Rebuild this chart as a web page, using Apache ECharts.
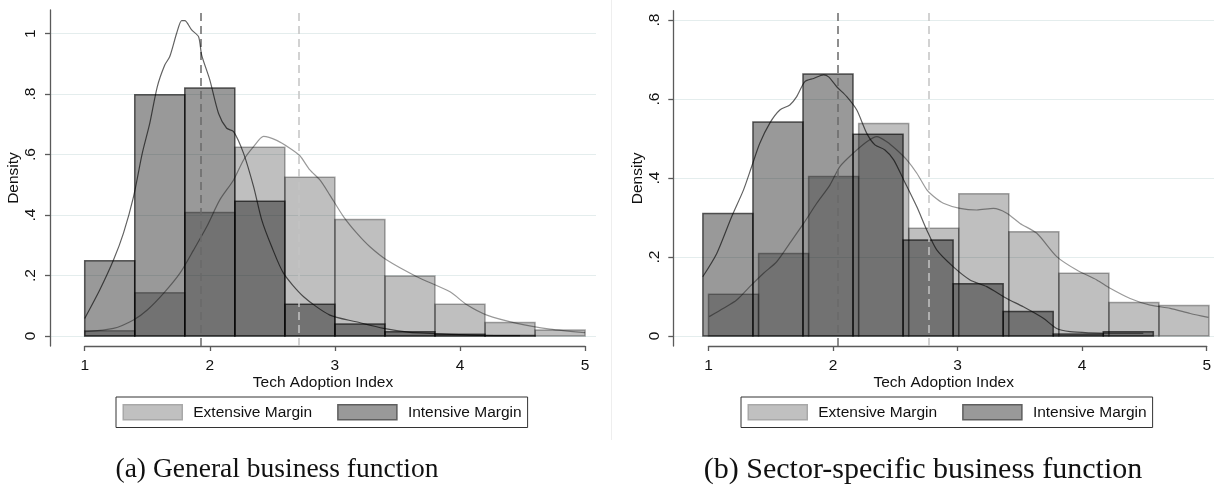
<!DOCTYPE html>
<html>
<head>
<meta charset="utf-8">
<script src="https://cdn.jsdelivr.net/npm/echarts@6/dist/echarts.min.js"></script>
<style>
  html, body { margin: 0; padding: 0; background: #fff; }
  #chart { width: 1214px; height: 491px; }
</style>
</head>
<body>
<div id="chart"></div>
<script>
// ---- Data -------------------------------------------------------------
const binWidth = 0.4;

// (a) General business function
const extStartA = 1.0;
const extA = [0.017, 0.143, 0.408, 0.624, 0.525, 0.385, 0.198, 0.105, 0.045, 0.020];
const intStartA = 1.0;
const intA = [0.249, 0.798, 0.820, 0.446, 0.105, 0.040, 0.014, 0.006, 0.002];
const extDensA = [
  [1.00, 0.014], [1.23, 0.025], [1.39, 0.053], [1.50, 0.086], [1.63, 0.141], [1.76, 0.207],
  [1.87, 0.284], [1.975, 0.361], [2.08, 0.450], [2.19, 0.516], [2.27, 0.582], [2.35, 0.626],
  [2.43, 0.660], [2.535, 0.647], [2.64, 0.621], [2.72, 0.596], [2.80, 0.549], [2.88, 0.516],
  [2.96, 0.466], [3.07, 0.394], [3.175, 0.340], [3.28, 0.295], [3.415, 0.251], [3.655, 0.196],
  [3.92, 0.146], [4.055, 0.103], [4.215, 0.069], [4.455, 0.042], [4.72, 0.023], [5.00, 0.011]
];
const intDensA = [
  [1.00, 0.058], [1.12, 0.152], [1.23, 0.251], [1.31, 0.340], [1.39, 0.460], [1.46, 0.604],
  [1.52, 0.703], [1.58, 0.824], [1.64, 0.896], [1.68, 0.924], [1.735, 1.001], [1.775, 1.043],
  [1.80, 1.043], [1.855, 1.012], [1.91, 0.990], [1.935, 0.929], [2.00, 0.847], [2.07, 0.736],
  [2.135, 0.687], [2.19, 0.676], [2.27, 0.604], [2.35, 0.494], [2.415, 0.384], [2.495, 0.295],
  [2.59, 0.207], [2.75, 0.130], [2.96, 0.069], [3.17, 0.047], [3.39, 0.025], [3.60, 0.012],
  [3.76, 0.009], [4.08, 0.003], [4.48, 0.001]
];
const meanExtA = 2.712;
const meanIntA = 1.934;

// (b) Sector-specific business function
const extStartB = 1.0;
const extB = [0.106, 0.209, 0.404, 0.538, 0.273, 0.360, 0.264, 0.159, 0.085, 0.077];
const intStartB = 0.955;
const intB = [0.310, 0.542, 0.663, 0.511, 0.243, 0.132, 0.062, 0.005, 0.011];
const extDensB = [
  [1.006, 0.049], [1.12, 0.070], [1.225, 0.091], [1.33, 0.125], [1.44, 0.159], [1.545, 0.188],
  [1.65, 0.235], [1.76, 0.285], [1.865, 0.336], [1.97, 0.382], [2.05, 0.429], [2.157, 0.463],
  [2.265, 0.492], [2.345, 0.505], [2.425, 0.492], [2.505, 0.471], [2.585, 0.446], [2.665, 0.412],
  [2.745, 0.370], [2.80, 0.353], [2.877, 0.336], [3.01, 0.323], [3.144, 0.319], [3.277, 0.323],
  [3.384, 0.311], [3.49, 0.285], [3.624, 0.260], [3.783, 0.201], [3.943, 0.167], [4.103, 0.142],
  [4.21, 0.121], [4.37, 0.095], [4.53, 0.078], [4.69, 0.070], [4.85, 0.057], [4.995, 0.047]
];
const intDensB = [
  [0.954, 0.150], [1.066, 0.209], [1.185, 0.302], [1.28, 0.370], [1.345, 0.429], [1.41, 0.488],
  [1.49, 0.539], [1.57, 0.572], [1.65, 0.585], [1.705, 0.606], [1.77, 0.644], [1.84, 0.652],
  [1.92, 0.661], [1.96, 0.656], [2.025, 0.631], [2.105, 0.606], [2.185, 0.572], [2.265, 0.513],
  [2.33, 0.484], [2.41, 0.471], [2.48, 0.446], [2.56, 0.395], [2.665, 0.327], [2.745, 0.268],
  [2.824, 0.218], [2.957, 0.175], [3.09, 0.142], [3.224, 0.125], [3.384, 0.095], [3.516, 0.074],
  [3.676, 0.045], [3.783, 0.019], [3.89, 0.011], [4.05, 0.008], [4.21, 0.007], [4.475, 0.007]
];
const meanExtB = 2.764;
const meanIntB = 2.034;

const xTicks = [1, 5];          // x axis runs from 1 to 5, one unit per tick
const yTopA = 1.0;              // highest labelled density tick, panel (a)
const yTopB = 0.8;              // highest labelled density tick, panel (b)

// ---- Layout (pixels) ---------------------------------------------------
const panels = [
  { plotL: 50, plotR: 596, plotT: 10, plotB: 346, x1: 84.7, x5: 585.1, y0: 336, yTopPx: 33.6, yTop: yTopA,
    ext: extA, extStart: extStartA, int: intA, intStart: intStartA,
    extDens: extDensA, intDens: intDensA, meanExt: meanExtA, meanInt: meanIntA,
    legendLeft: 116, caption: '(a) General business function', capX: 277, capSize: 27.5 },
  { plotL: 673.3, plotR: 1214, plotT: 10.7, plotB: 346, x1: 708.5, x5: 1209, y0: 336, yTopPx: 20, yTop: yTopB,
    ext: extB, extStart: extStartB, int: intB, intStart: intStartB,
    extDens: extDensB, intDens: intDensB, meanExt: meanExtB, meanInt: meanIntB,
    legendLeft: 741, caption: '(b) Sector-specific business function', capX: 923, capSize: 30 }
];

const FONT = '"Liberation Sans", Arial, sans-serif';
const FS = 15.5;
const AXIS_COLOR = '#5a5a5a';
const TEXT_COLOR = '#111111';

const EXT_STYLE = { fill: 'rgba(0,0,0,0.25)', stroke: 'rgba(0,0,0,0.33)', lineWidth: 1.5 };
const INT_STYLE = { fill: 'rgba(0,0,0,0.40)', stroke: 'rgba(0,0,0,0.62)', lineWidth: 1.5 };

function bins(start, heights) {
  return heights.map((h, i) => [start + i * binWidth, start + (i + 1) * binWidth, h]);
}

function histRenderer(style) {
  return function (params, api) {
    const a = api.coord([api.value(0), 0]);
    const b = api.coord([api.value(1), api.value(2)]);
    return {
      type: 'rect',
      shape: { x: a[0], y: b[1], width: b[0] - a[0], height: a[1] - b[1] },
      style: Object.assign({}, style)
    };
  };
}

function yLabel(v) {
  if (Math.abs(v) < 1e-9) return '0';
  const s = String(+v.toFixed(1));
  return s.replace(/^0\./, '.');
}

const grid = [], xAxis = [], yAxis = [], series = [], legend = [], graphic = [];

panels.forEach((p, k) => {
  const pxPerX = (p.x5 - p.x1) / (xTicks[1] - xTicks[0]);
  const xMin = xTicks[0] - (p.x1 - p.plotL) / pxPerX;
  const xMax = xTicks[1] + (p.plotR - p.x5) / pxPerX;
  const pxPerY = (p.y0 - p.yTopPx) / p.yTop;
  const yMin = -(p.plotB - p.y0) / pxPerY;
  const yMax = p.yTop + (p.yTopPx - p.plotT) / pxPerY;
  const g = 3 * k;

  // data grid
  grid.push({ left: p.plotL, top: p.plotT, width: p.plotR - p.plotL, height: p.plotB - p.plotT });
  // x tick grid (axis line only spans 1..5)
  grid.push({ left: p.x1, top: p.plotB - 1, width: p.x5 - p.x1, height: 1 });
  // y tick / gridline grid
  grid.push({ left: p.plotL, top: p.yTopPx, width: p.plotR - p.plotL, height: p.y0 - p.yTopPx });

  xAxis.push({
    gridIndex: g, type: 'value', min: xMin, max: xMax,
    axisLine: { show: false }, axisTick: { show: false }, axisLabel: { show: false }, splitLine: { show: false },
    name: 'Tech Adoption Index', nameLocation: 'middle', nameGap: 29,
    nameTextStyle: { fontFamily: FONT, fontSize: FS, color: TEXT_COLOR }
  });
  xAxis.push({
    gridIndex: g + 1, type: 'value', min: xTicks[0], max: xTicks[1], interval: 1, position: 'bottom',
    axisLine: { show: true, lineStyle: { color: AXIS_COLOR, width: 1.3 } },
    axisTick: { show: true, length: 5, lineStyle: { color: AXIS_COLOR, width: 1.3 } },
    axisLabel: { fontFamily: FONT, fontSize: FS, color: TEXT_COLOR, margin: 12 },
    splitLine: { show: false }
  });
  xAxis.push({ gridIndex: g + 2, type: 'value', show: false, min: 0, max: 1 });

  yAxis.push({
    gridIndex: g, type: 'value', min: yMin, max: yMax,
    axisLine: { show: true, onZero: false, lineStyle: { color: AXIS_COLOR, width: 1.3 } },
    axisTick: { show: false }, axisLabel: { show: false }, splitLine: { show: false },
    name: 'Density', nameLocation: 'middle', nameGap: 28, nameRotate: 90,
    nameTextStyle: { fontFamily: FONT, fontSize: FS, color: TEXT_COLOR }
  });
  yAxis.push({ gridIndex: g + 1, type: 'value', show: false, min: 0, max: 1 });
  yAxis.push({
    gridIndex: g + 2, type: 'value', min: 0, max: p.yTop, interval: 0.2,
    axisLine: { show: false },
    axisTick: { show: true, length: 5, lineStyle: { color: AXIS_COLOR, width: 1.3 } },
    axisLabel: { fontFamily: FONT, fontSize: FS, color: TEXT_COLOR, rotate: 90, margin: 11, formatter: yLabel },
    splitLine: { show: true, lineStyle: { color: '#e4eded', width: 1.2 } }
  });

  series.push({
    name: 'Extensive Margin', type: 'custom', xAxisIndex: g, yAxisIndex: g,
    renderItem: histRenderer(EXT_STYLE), encode: { x: [0, 1], y: 2 },
    itemStyle: { color: '#c0c0c0' }, data: bins(p.extStart, p.ext), z: 2, silent: true
  });
  series.push({
    name: 'Intensive Margin', type: 'custom', xAxisIndex: g, yAxisIndex: g,
    renderItem: histRenderer(INT_STYLE), encode: { x: [0, 1], y: 2 },
    itemStyle: { color: '#999999' }, data: bins(p.intStart, p.int), z: 3, silent: true
  });
  series.push({
    name: 'Extensive density', type: 'line', xAxisIndex: g, yAxisIndex: g,
    data: p.extDens, showSymbol: false, smooth: 0.25, silent: true, z: 4,
    lineStyle: { color: 'rgba(0,0,0,0.40)', width: 1.2 },
    markLine: {
      silent: true, symbol: 'none', label: { show: false },
      lineStyle: { color: '#c4c4c4', width: 1.5, type: [8, 5] },
      data: [{ xAxis: p.meanExt }]
    }
  });
  series.push({
    name: 'Intensive density', type: 'line', xAxisIndex: g, yAxisIndex: g,
    data: p.intDens, showSymbol: false, smooth: 0.25, silent: true, z: 5,
    lineStyle: { color: 'rgba(0,0,0,0.62)', width: 1.2 },
    markLine: {
      silent: true, symbol: 'none', label: { show: false },
      lineStyle: { color: '#6a6a6a', width: 1.5, type: [8, 5] },
      data: [{ xAxis: p.meanInt }]
    }
  });

  legend.push({
    left: p.legendLeft, top: 397, orient: 'horizontal', icon: 'rect',
    itemWidth: 59, itemHeight: 15, itemGap: 25, selectedMode: false,
    padding: [7, 6, 7, 6.5],
    borderColor: '#333', borderWidth: 1, backgroundColor: '#fff',
    textStyle: { fontFamily: FONT, fontSize: FS, color: TEXT_COLOR, padding: [0, 0, 0, 6] },
    data: [
      { name: 'Extensive Margin', itemStyle: { color: '#c0c0c0', borderColor: '#a8a8a8', borderWidth: 1.5 } },
      { name: 'Intensive Margin', itemStyle: { color: '#999999', borderColor: '#5e5e5e', borderWidth: 1.5 } }
    ]
  });

  graphic.push({
    type: 'text', x: p.capX, y: 470, silent: true,
    style: {
      text: p.caption, textAlign: 'center', textVerticalAlign: 'middle',
      font: 'normal ' + p.capSize + 'px "Liberation Serif", "Times New Roman", serif', fill: '#111'
    }
  });
});

// faint edge between the two panels
graphic.push({
  type: 'line', silent: true,
  shape: { x1: 611.5, y1: 0, x2: 611.5, y2: 440 },
  style: { stroke: '#eeeeee', lineWidth: 1 }
});

const chart = echarts.init(document.getElementById('chart'), null, { renderer: 'canvas' });
chart.setOption({
  animation: false,
  backgroundColor: '#ffffff',
  grid, xAxis, yAxis, series, legend, graphic
});
</script>
</body>
</html>
